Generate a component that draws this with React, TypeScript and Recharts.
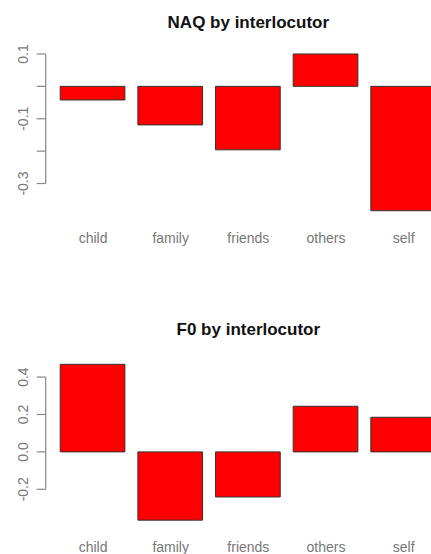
import React from 'react';
import { BarChart, Bar, XAxis, YAxis, ReferenceLine } from 'recharts';

const categories = ['child', 'family', 'friends', 'others', 'self'];
const naqValues = [-0.042, -0.119, -0.196, 0.1, -0.384];
const f0Values = [0.468, -0.365, -0.241, 0.244, 0.185];

const naqTicks = [0.1, 0, -0.1, -0.2, -0.3];
const naqTickLabels = ['0.1', '', '-0.1', '', '-0.3'];
const f0Ticks = [0.4, 0.2, 0, -0.2];
const f0TickLabels = ['0.4', '0.2', '0.0', '-0.2'];

const FONT = '"Liberation Sans", Arial, Helvetica, sans-serif';
const AXIS_COLOR = '#888';
const LABEL_COLOR = '#777';

function rDomain(values: number[]): [number, number] {
  const lo = Math.min(0, ...values);
  const hi = Math.max(0, ...values);
  const pad = (hi - lo) * 0.04;
  return [lo - pad, hi + pad];
}

type PanelProps = {
  title: string;
  values: number[];
  ticks: number[];
  tickLabels: string[];
  top: number;
  marginTop: number;
  marginBottom: number;
  xAxisHeight: number;
  titleTop: number;
};

const CHART_W = 460;
const PANEL_H = 277;
const YAXIS_W = 45.7;
const MARGIN_R = 9;

function Panel(p: PanelProps) {
  const data = categories.map((c, i) => ({ name: c, value: p.values[i] }));
  const domain = rDomain(p.values);
  const labelFor = (v: number) => {
    const i = p.ticks.indexOf(v);
    return i >= 0 ? p.tickLabels[i] : '';
  };
  const YTick = (props: any) => {
    const { x, y, payload } = props;
    const label = labelFor(payload.value);
    if (!label) return null;
    return (
      <text
        x={x}
        y={y}
        transform={`rotate(-90 ${x} ${y})`}
        textAnchor="middle"
        fill={LABEL_COLOR}
        fontSize={14}
        fontFamily={FONT}
      >
        {label}
      </text>
    );
  };
  const XTick = (props: any) => {
    const { x, y, payload } = props;
    return (
      <text x={x} y={y} textAnchor="middle" fill={LABEL_COLOR} fontSize={14} fontFamily={FONT}>
        {payload.value}
      </text>
    );
  };
  return (
    <div style={{ position: 'absolute', left: 0, top: p.top, width: CHART_W, height: PANEL_H }}>
      <div
        style={{
          position: 'absolute',
          left: YAXIS_W,
          width: CHART_W - YAXIS_W - MARGIN_R,
          top: p.titleTop,
          textAlign: 'center',
          fontFamily: FONT,
          fontWeight: 'bold',
          fontSize: 17,
          lineHeight: '17px',
          color: '#111',
        }}
      >
        {p.title}
      </div>
      <BarChart
        width={CHART_W}
        height={PANEL_H}
        data={data}
        margin={{ top: p.marginTop, right: MARGIN_R, bottom: p.marginBottom, left: 0 }}
        style={{ position: 'absolute', left: 0, top: 0 }}
      >
        <XAxis
          dataKey="name"
          type="category"
          padding={{ left: 8.5, right: 8.5 }}
          axisLine={false}
          tickLine={false}
          tickSize={0}
          tickMargin={26}
          height={p.xAxisHeight}
          interval={0}
          tick={XTick}
        />
        <XAxis xAxisId="spine" type="number" domain={[0, 1]} allowDataOverflow hide />
        <YAxis
          type="number"
          domain={domain}
          allowDataOverflow
          ticks={p.ticks}
          interval={0}
          width={YAXIS_W}
          axisLine={false}
          tickLine={{ stroke: AXIS_COLOR, strokeWidth: 1.2 }}
          tickSize={9}
          tickMargin={9}
          tick={YTick}
        />
        <ReferenceLine
          xAxisId="spine"
          segment={[
            { x: 0, y: Math.max(...p.ticks) },
            { x: 0, y: Math.min(...p.ticks) },
          ]}
          stroke={AXIS_COLOR}
          strokeWidth={1.2}
          ifOverflow="visible"
        />
        <Bar dataKey="value" fill="#ff0000" stroke="#333" strokeWidth={1} barSize={64.7} isAnimationActive={false} />
      </BarChart>
    </div>
  );
}

export default function App() {
  return (
    <div
      style={{
        position: 'absolute',
        left: 0,
        top: 0,
        width: 431,
        height: 554,
        overflow: 'hidden',
        background: '#fff',
      }}
    >
      <Panel
        title="NAQ by interlocutor"
        values={naqValues}
        ticks={naqTicks}
        tickLabels={naqTickLabels}
        top={0}
        marginTop={47.7}
        marginBottom={30}
        xAxisHeight={30}
        titleTop={13.6}
      />
      <Panel
        title="F0 by interlocutor"
        values={f0Values}
        ticks={f0Ticks}
        tickLabels={f0TickLabels}
        top={277}
        marginTop={81.1}
        marginBottom={7.6}
        xAxisHeight={20}
        titleTop={43.6}
      />
    </div>
  );
}
